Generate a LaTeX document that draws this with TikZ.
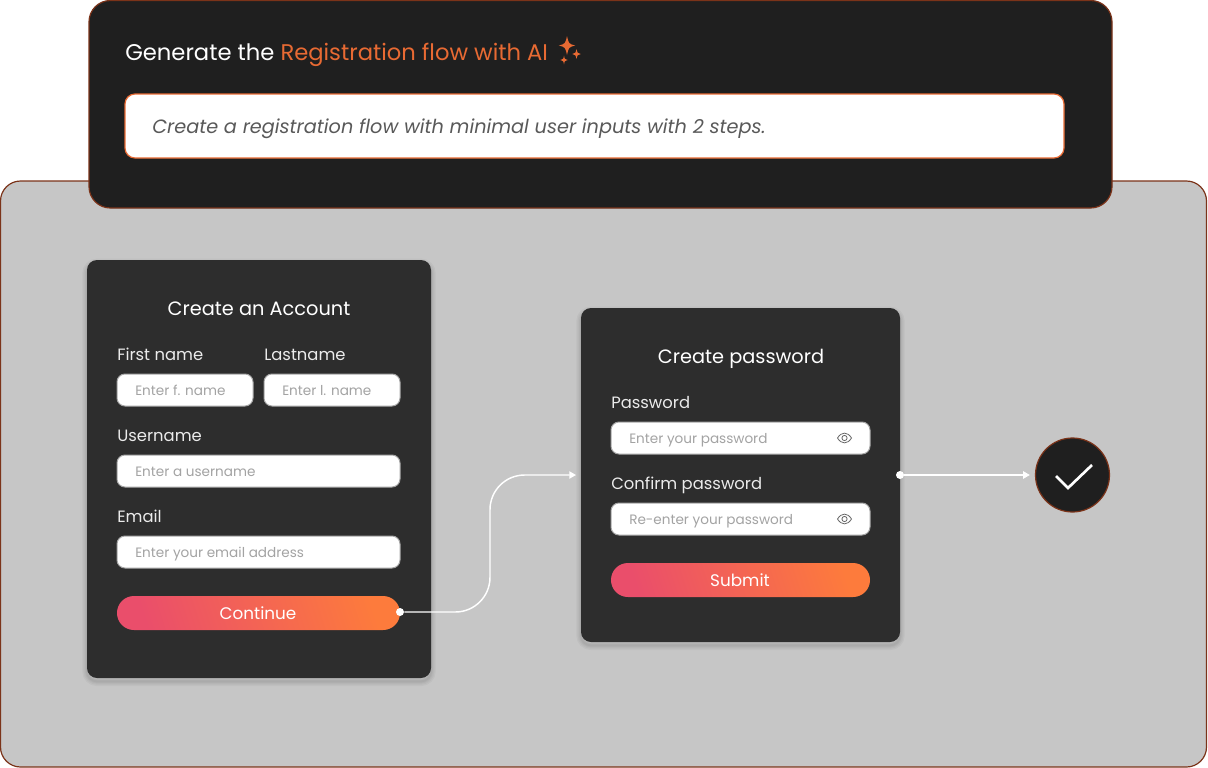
\documentclass[tikz,border=0pt]{standalone}
\usepackage{fontspec}
\setmainfont{Poppins}
\usetikzlibrary{arrows.meta}
\definecolor{panelbg}{HTML}{C6C6C6}
\definecolor{rust}{HTML}{7B3319}
\definecolor{ink}{HTML}{1F1F1F}
\definecolor{cardink}{HTML}{2D2D2D}
\definecolor{accent}{HTML}{E86A33}
\definecolor{btnpink}{HTML}{EA4E6B}
\definecolor{btnorange}{HTML}{FD7B3C}
\tikzset{
    boxsize/.style 2 args={minimum width=#1*0.75pt, minimum height=#2*0.75pt, inner sep=0pt, outer sep=0pt, anchor=north west},
    shellbox/.style={fill=panelbg, draw=rust, line width=0.9pt, rounded corners=15pt},
    headbox/.style={fill=ink, draw=rust, line width=0.9pt, rounded corners=16pt},
    promptbox/.style={fill=white, draw=accent, line width=0.9pt, rounded corners=7.5pt},
    softedge/.style={preaction={draw=black, draw opacity=0.035, line width=#1, transform canvas={yshift=-2.5pt}}},
    cardbox/.style={fill=cardink, rounded corners=7.5pt, softedge=7pt, softedge=5pt, softedge=3pt, softedge=1.5pt},
    fieldbox/.style={fill=white, draw=black!35, line width=0.75pt, rounded corners=6pt},
    btnbox/.style={rounded corners=12.7pt, top color=btnpink, bottom color=btnorange, shading angle=108},
    titletext/.style={text=white, anchor=base, inner sep=0pt, font=\fontsize{14.5}{18}\selectfont},
    labeltext/.style={text=white!92!black, anchor=base west, inner sep=0pt, font=\fontsize{12.3}{15}\selectfont},
    hinttext/.style={text=black!36, anchor=base west, inner sep=0pt, font=\fontsize{10.2}{12}\selectfont},
    btntext/.style={text=white, anchor=base, inner sep=0pt, font=\fontsize{12.6}{15}\selectfont},
    dotnode/.style={circle, fill=white, minimum size=6pt, inner sep=0pt},
    flowline/.style={draw=white, line width=1.1pt, -{Triangle[length=5pt,width=5.4pt]}, shorten >=3.75pt},
    eyeicon/.pic={
        \draw[black!60, line width=0.6pt] (-7,0) .. controls (-3,-6.5) and (3,-6.5) .. (7,0) .. controls (3,6.5) and (-3,6.5) .. (-7,0) -- cycle;
        \draw[black!60, line width=0.6pt] (0,0) circle (2.6);
    }
}
\newcommand{\sparkle}[3]{
    \fill[accent] (#1,#2-#3) .. controls (#1+0.18*#3,#2-0.18*#3) .. (#1+0.85*#3,#2) .. controls (#1+0.18*#3,#2+0.18*#3) .. (#1,#2+#3) .. controls (#1-0.18*#3,#2+0.18*#3) .. (#1-0.85*#3,#2) .. controls (#1-0.18*#3,#2-0.18*#3) .. cycle;
}
\begin{document}
\begin{tikzpicture}[x=0.75pt, y=-0.75pt]
    \useasboundingbox (0,0) rectangle (1208,768);

    \node[shellbox, boxsize={1206}{586}] (shell) at (0.5,181) {};
    \node[headbox, boxsize={1023}{207.5}] (head) at (89,0.5) {};
    \node[promptbox, boxsize={939}{64}] (prompt) at (125,94) {};

    \node[anchor=base west, inner sep=0pt, text=white, font=\fontsize{17}{21}\selectfont] (headline) at (125,60) {Generate the \textcolor{accent}{Registration flow with AI}};
    \node[anchor=base west, inner sep=0pt, text=black!65, font=\fontsize{14.45}{19}\itshape] (prompttext) at (152,133.5) {Create a registration flow with minimal user inputs with 2 steps.};
    \sparkle{567}{45.5}{9.5}
    \sparkle{576.5}{54}{5}
    \sparkle{564}{60}{4.3}

    \node[cardbox, boxsize={344}{418}] (cardA) at (87,260) {};
    \node[titletext] (titleA) at (259,315) {Create an Account};
    \node[labeltext] (firstlabel) at (117,360.5) {First name};
    \node[labeltext] (lastlabel) at (264,360.5) {Lastname};
    \node[fieldbox, boxsize={136}{32}] (firstbox) at (117,374) {};
    \node[fieldbox, boxsize={136}{32}] (lastbox) at (264,374) {};
    \node[hinttext] (firsthint) at (135,395) {Enter f. name};
    \node[hinttext] (lasthint) at (282,395) {Enter l. name};
    \node[labeltext] (userlabel) at (117,441) {Username};
    \node[fieldbox, boxsize={283}{32}] (userbox) at (117,455) {};
    \node[hinttext] (userhint) at (135,476) {Enter a username};
    \node[labeltext] (maillabel) at (117,522) {Email};
    \node[fieldbox, boxsize={283}{32}] (mailbox) at (117,536) {};
    \node[hinttext] (mailhint) at (135,557) {Enter your email address};
    \node[btnbox, boxsize={283}{34}] (continuebtn) at (117,596) {};
    \node[btntext] (continuetext) at (258,619) {Continue};

    \node[cardbox, boxsize={319}{334}] (cardB) at (581,308) {};
    \node[titletext] (titleB) at (741,363) {Create password};
    \node[labeltext] (passlabel) at (611,408) {Password};
    \node[fieldbox, boxsize={259}{32}] (passbox) at (611,422) {};
    \node[hinttext] (passhint) at (629,443) {Enter your password};
    \node[labeltext] (confirmlabel) at (611,489) {Confirm password};
    \node[fieldbox, boxsize={259}{32}] (confirmbox) at (611,503) {};
    \node[hinttext] (confirmhint) at (629,524) {Re-enter your password};
    \foreach \ypos in {438,519}
        \pic at (844.5,\ypos) {eyeicon};
    \node[btnbox, boxsize={259}{34}] (submitbtn) at (611,563) {};
    \node[btntext] (submittext) at (740,586) {Submit};

    \node[circle, fill=ink, draw=rust, line width=0.9pt, minimum size=55.5pt, inner sep=0pt] (donemark) at (1072.5,475) {};
    \draw[white, line width=2pt] (1056,476) -- (1068,488) -- (1092,465);

    \node[dotnode] (dotA) at (400,612) {};
    \node[dotnode] (dotB) at (cardB.east) {};
    \coordinate (bendA) at (490,475);
    \draw[flowline, rounded corners=26pt] (dotA) -| (bendA) -- (cardB.west);
    \draw[flowline] (dotB) -- (donemark);
\end{tikzpicture}
\end{document}
